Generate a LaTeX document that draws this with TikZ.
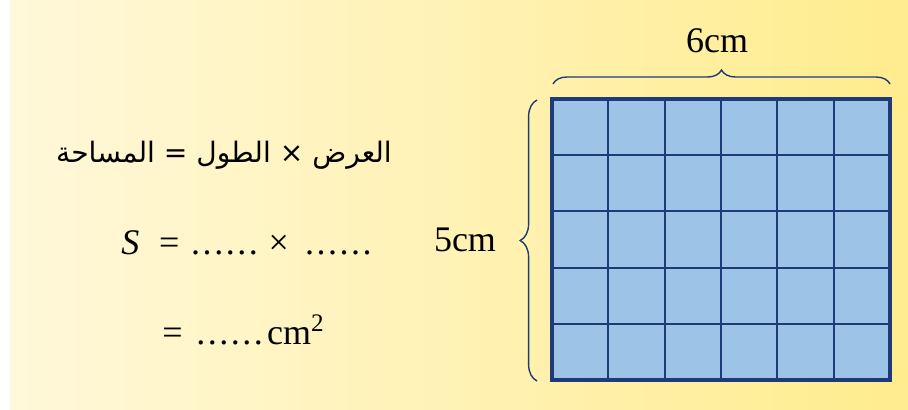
\documentclass[tikz,border=0pt]{standalone}
\usepackage{fontspec}
\setmainfont{Liberation Serif}
\newfontfamily\arabicfont[Script=Arabic]{DejaVu Sans}
\TeXXeTstate=1
\usetikzlibrary{decorations.pathreplacing}
\definecolor{trait}{HTML}{1F3A78}
\definecolor{case}{HTML}{9DC3E6}
\definecolor{fondg}{HTML}{FFF8DA}
\definecolor{fondd}{HTML}{FFEC8E}
\newcommand{\pointilles}{{\addfontfeature{LetterSpace=7}......}}
\begin{document}
\begin{tikzpicture}[x=0.025cm, y=-0.025cm,
    texte/.style={font=\fontsize{25.6}{30}\selectfont, inner sep=0pt},
    arabe/.style={font=\fontsize{20}{25}\selectfont, inner sep=0pt},
    ligne/.style={draw=trait, line width=1.4pt},
    accolade/.style={draw=trait, line width=1pt, decorate, decoration={brace, amplitude=#1}}]
    \useasboundingbox (0,0) rectangle (908,409);
    
    % Fond
    \fill[white] (0,0) rectangle (908,409);
    \shade[left color=fondg, right color=fondd] (10,0) rectangle (908,409);
    
    % Quadrillage
    \coordinate (hg) at (552,99);
    \coordinate (bd) at (890,380);
    \fill[case] (hg) rectangle (bd);
    \foreach \x in {608.3,664.7,721,777.3,833.7}
        \draw[ligne] (\x,99) -- (\x,380);
    \foreach \y in {155.2,211.4,267.6,323.8}
        \draw[ligne] (552,\y) -- (890,\y);
    \draw[ligne, line width=2.2pt] (hg) rectangle (bd);
    
    % Accolades
    \coordinate (a1) at (553,84);
    \coordinate (a2) at (890,84);
    \coordinate (b1) at (537,381);
    \coordinate (b2) at (537,100);
    \draw[accolade=0.35cm] (a1) -- (a2);
    \draw[accolade=0.42cm] (b1) -- (b2);
    
    % Dimensions
    \node[texte] (longueur) at (717,41) {6cm};
    \node[texte] (largeur) at (465,240) {5cm};
    
    % Formule
    \node[arabe] (formule) at (224,155) {\arabicfont\beginR العرض × الطول = المساحة\endR};
    \node[texte, anchor=west] (calcul) at (121,243) {\textit{S}\hspace{0.55em}=\hspace{0.33em}\pointilles\hspace{0.3em}×\hspace{0.45em}\pointilles};
    \node[texte, anchor=west] (resultat) at (162,330) {=\hspace{0.38em}\pointilles\hspace{0.12em}cm\textsuperscript{2}};
    
\end{tikzpicture}
\end{document}
